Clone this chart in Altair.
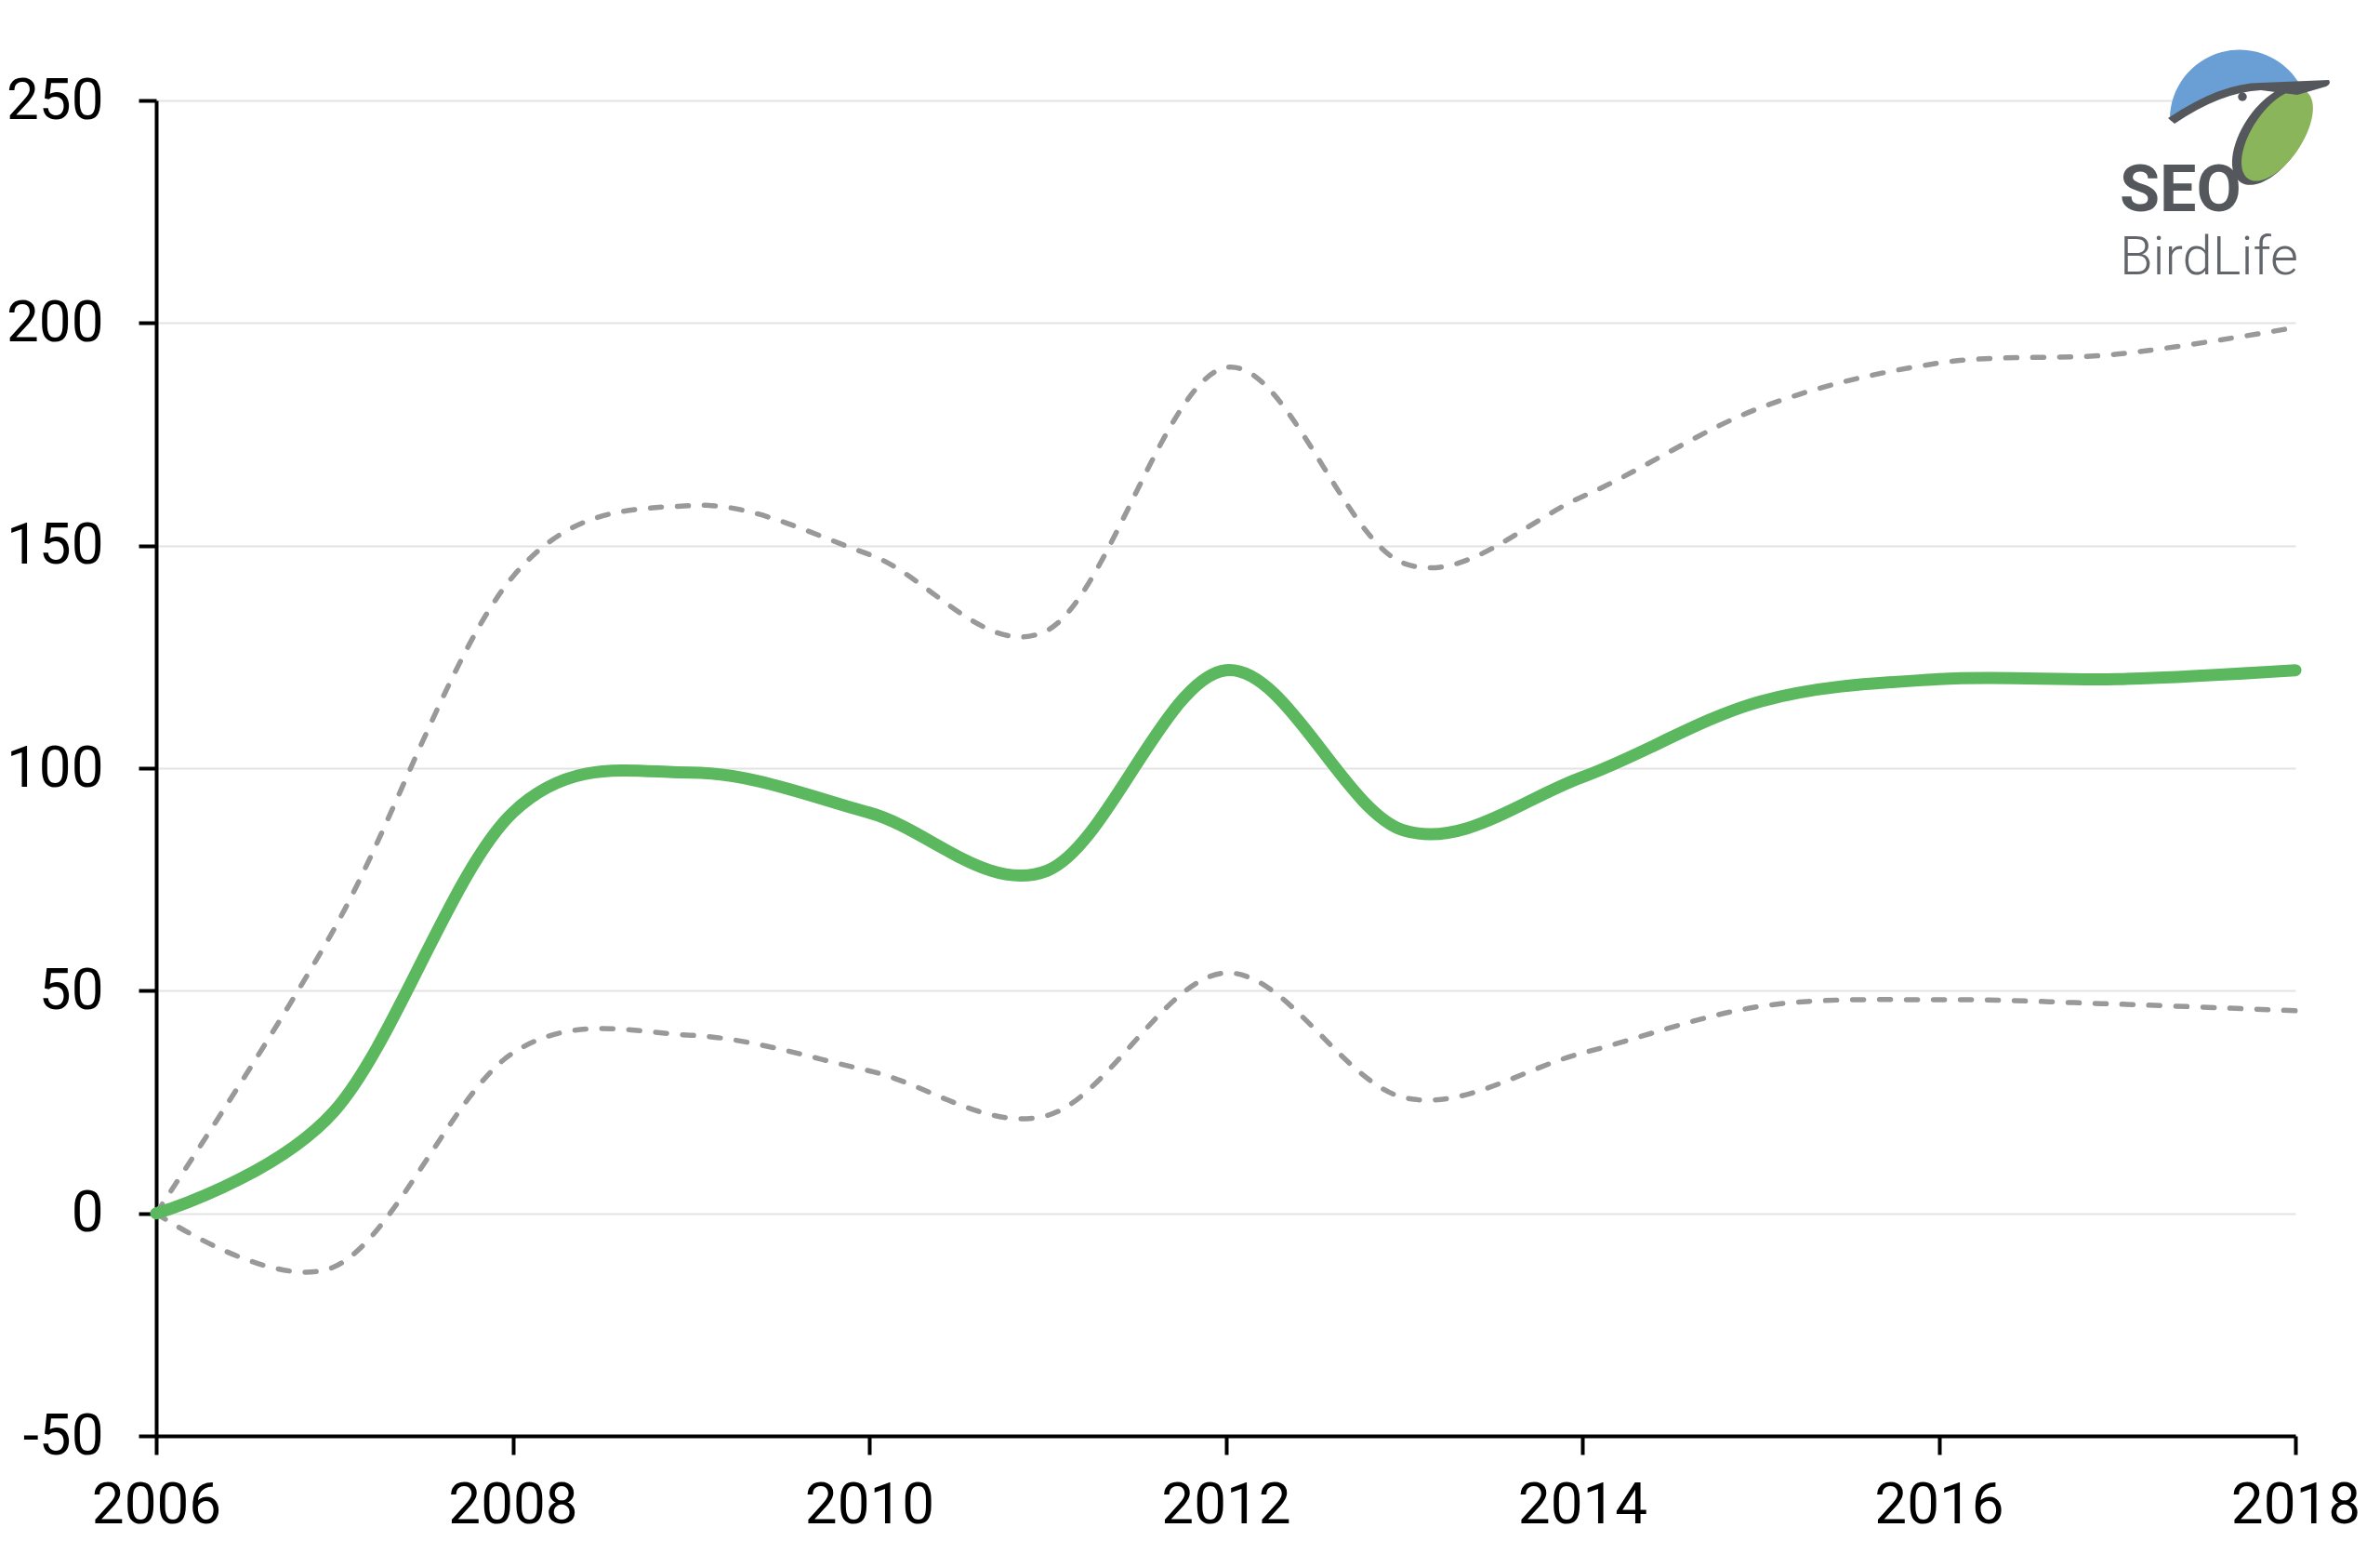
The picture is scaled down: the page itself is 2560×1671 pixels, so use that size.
import altair as alt
import pandas as pd

# ---- data ----
years = list(range(2006, 2019))
trend = [0, 23, 90, 99, 90, 77, 122, 86, 98, 115, 120, 120, 122]
upper = [0, 64, 143, 159, 148, 131, 190, 146, 161, 181, 191, 193, 199]
lower = [0, -12, 36, 40, 32, 22, 54, 26, 36, 46.5, 48, 47, 45.5]

x_ticks = [2006, 2008, 2010, 2012, 2014, 2016, 2018]
y_ticks = [-50, 0, 50, 100, 150, 200, 250]

df = pd.DataFrame({"year": years, "trend": trend, "upper": upper, "lower": lower})

W, H = 2301, 1436
FONT = "Roboto"
GREEN = "#5cb85f"
DASH = "#999999"

x = alt.X("year:Q", scale=alt.Scale(domain=[2006, 2018], nice=False, zero=False),
          axis=alt.Axis(values=x_ticks, format="d", title=None, grid=False,
                        domainColor="black", domainWidth=4, tickColor="black",
                        tickWidth=4, tickSize=20, labelFontSize=62, labelFont=FONT,
                        labelColor="black", labelPadding=24, labelFlush=False))
yaxis = alt.Axis(values=y_ticks, title=None, grid=True, gridColor="#e3e3e3", gridWidth=2,
                 domainColor="black", domainWidth=4, tickColor="black", tickWidth=4,
                 tickSize=19, labelFontSize=62, labelFont=FONT, labelColor="black",
                 labelPadding=38, labelExpr="'' + datum.value")
yscale = alt.Scale(domain=[-50, 250], nice=False, zero=False)

base = alt.Chart(df)
up_line = base.mark_line(color=DASH, strokeWidth=5.5, strokeDash=[12, 17], strokeCap="round",
                         interpolate="cardinal").encode(
    x=x, y=alt.Y("upper:Q", scale=yscale, axis=yaxis))
lo_line = base.mark_line(color=DASH, strokeWidth=5.5, strokeDash=[12, 17], strokeCap="round",
                         interpolate="cardinal").encode(
    x=x, y=alt.Y("lower:Q", scale=yscale))
tr_line = base.mark_line(color=GREEN, strokeWidth=13, interpolate="cardinal",
                         strokeCap="round").encode(
    x=x, y=alt.Y("trend:Q", scale=yscale))

# ---- SEO/BirdLife logo (decoration) ----
logo_df = pd.DataFrame({"logo": ["SEO BirdLife"]})
lb = alt.Chart(logo_df)
LX, LY = 2241, 20  # logo centre inside plot area
BLUE_PATH = "M -0.75 0.0 A 0.75 0.75 0 0 1 0.65 -0.37 L 0.23 -0.35 Q -0.2 -0.33 -0.74 0.02 Z"
ELL_DARK = "M 0.68 -0.33 A 0.60 0.31 -56.3 1 1 0.01 0.68 A 0.60 0.31 -56.3 1 1 0.68 -0.33 Z"
ELL_GREEN = "M 0.72 -0.29 A 0.56 0.27 -56.3 1 1 0.09 0.64 A 0.56 0.27 -56.3 1 1 0.72 -0.29 Z"
BEAK = ("M -0.77 -0.01 Q -0.2 -0.39 0.23 -0.39 L 0.96 -0.42 Q 0.99 -0.38 0.93 -0.35 "
        "L 0.62 -0.26 L 0.23 -0.31 Q -0.2 -0.29 -0.70 0.05 Z")
DARK = "#54585c"

logo_layers = [
    lb.mark_point(shape="circle", filled=True, size=19500, color="white", opacity=1,
                  strokeWidth=0).encode(x=alt.value(LX), y=alt.value(LY + 3)),
    lb.mark_point(shape=BLUE_PATH, filled=True, size=40000, color="#6a9fd5", opacity=1,
                  strokeWidth=0).encode(x=alt.value(LX), y=alt.value(LY)),
    lb.mark_point(shape=ELL_DARK, filled=True, size=40000, color=DARK, opacity=1,
                  strokeWidth=0).encode(x=alt.value(LX), y=alt.value(LY)),
    lb.mark_point(shape=ELL_GREEN, filled=True, size=40000, color="#8ab55b", opacity=1,
                  strokeWidth=0).encode(x=alt.value(LX), y=alt.value(LY)),
    lb.mark_point(shape=BEAK, filled=True, size=40000, color=DARK, opacity=1,
                  strokeWidth=0).encode(x=alt.value(LX), y=alt.value(LY)),
    lb.mark_point(shape="circle", filled=True, size=90, color=DARK, opacity=1,
                  strokeWidth=0).encode(x=alt.value(LX + 3), y=alt.value(LY - 24)),
    lb.mark_text(text="SEO", font=FONT, fontSize=70, fontWeight="bold", color=DARK,
                 align="left", baseline="alphabetic").encode(
        x=alt.value(2112), y=alt.value(119)),
    lb.mark_text(text="BirdLife", font=FONT, fontSize=58, fontWeight=300, color="#62666b",
                 align="left", baseline="alphabetic").encode(
        x=alt.value(2112), y=alt.value(187)),
]

chart = (
    alt.layer(up_line, lo_line, tr_line, *logo_layers)
    .properties(
        width=W, height=H,
        autosize=alt.AutoSizeParams(type="none"),
        padding={"left": 160, "top": 100, "right": 75, "bottom": 115},
    )
    .configure(background="white")
    .configure_view(stroke="transparent", strokeWidth=0, strokeOpacity=0)
    .configure_axisX(grid=False, gridOpacity=0)
)

chart.save("out.html", embed_options={"renderer": "svg", "actions": False})
